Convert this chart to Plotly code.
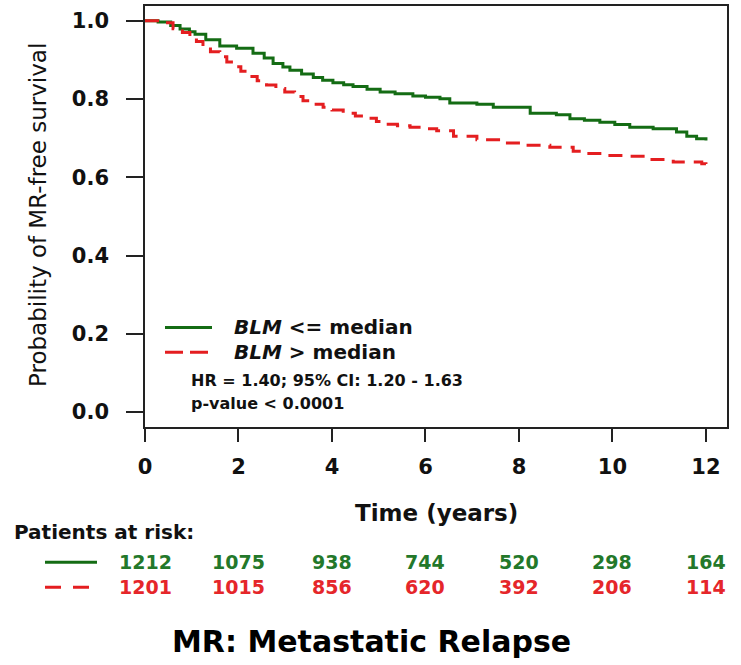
import plotly.graph_objects as go

# Kaplan-Meier estimates of metastatic-relapse-free survival by BLM group
time_low = [0, 0.28, 0.55, 0.75, 0.95, 1.07, 1.3, 1.6, 1.96, 2.31, 2.55, 2.74, 2.95, 3.1, 3.35,
            3.6, 3.8, 4.02, 4.25, 4.45, 4.75, 5.03, 5.35, 5.73, 6.0, 6.31, 6.52, 7.1, 7.45, 8.24,
            8.8, 9.09, 9.4, 9.73, 10.05, 10.37, 10.87, 11.37, 11.59, 11.8, 12.0]
surv_low = [1.0, 0.997, 0.988, 0.979, 0.972, 0.966, 0.952, 0.936, 0.930, 0.917, 0.905, 0.891, 0.882, 0.874, 0.864,
            0.855, 0.848, 0.842, 0.837, 0.832, 0.825, 0.818, 0.814, 0.808, 0.805, 0.801, 0.790, 0.787, 0.779, 0.764,
            0.760, 0.750, 0.746, 0.741, 0.735, 0.728, 0.724, 0.716, 0.705, 0.699, 0.694]

time_high = [0, 0.3, 0.6, 0.8, 0.96, 1.1, 1.24, 1.4, 1.6, 1.75, 1.89, 2.05, 2.25, 2.4, 2.6,
             2.8, 2.99, 3.2, 3.38, 3.6, 3.81, 4.0, 4.24, 4.5, 4.74, 4.95, 5.17, 5.4, 5.67, 5.9,
             6.24, 6.6, 7.1, 7.66, 8.16, 8.66, 9.16, 9.45, 9.73, 10.23, 10.74, 11.3, 11.91, 12.0]
surv_high = [1.0, 0.995, 0.98, 0.97, 0.961, 0.947, 0.934, 0.921, 0.908, 0.895, 0.883, 0.871, 0.858, 0.847, 0.836,
             0.827, 0.818, 0.807, 0.796, 0.787, 0.779, 0.772, 0.764, 0.757, 0.751, 0.743, 0.736, 0.732, 0.728, 0.724,
             0.719, 0.705, 0.696, 0.688, 0.682, 0.677, 0.667, 0.661, 0.656, 0.654, 0.646, 0.639, 0.635, 0.634]

# Numbers at risk
risk_times = [0, 2, 4, 6, 8, 10, 12]
risk_low = [1212, 1075, 938, 744, 520, 298, 164]
risk_high = [1201, 1015, 856, 620, 392, 206, 114]

x_ticks = [0, 2, 4, 6, 8, 10, 12]
y_ticks = [0.0, 0.2, 0.4, 0.6, 0.8, 1.0]

GREEN = "#146c14"
RED = "#e41e20"
GREEN_TXT = "#23782a"
RED_TXT = "#e5262a"
FONT = "DejaVu Sans"

fig = go.Figure()
fig.add_trace(go.Scatter(x=time_low, y=surv_low, mode="lines", line_shape="hv",
                         line=dict(color=GREEN, width=3), showlegend=False))
fig.add_trace(go.Scatter(x=time_high, y=surv_high, mode="lines", line_shape="hv",
                         line=dict(color=RED, width=3, dash="14px,9px"), showlegend=False))

# plot-area geometry in pixels, used to place elements outside / inside the box
L, R, T, B = 145, 727, 4, 427
W, H = R - L, B - T


def px(xp):
    return (xp - L) / W


def py(yp):
    return (B - yp) / H


shapes = []
annotations = []

# in-plot legend
shapes.append(dict(type="line", xref="paper", yref="paper", x0=px(165), x1=px(212), y0=py(327), y1=py(327),
                   line=dict(color=GREEN, width=3)))
shapes.append(dict(type="line", xref="paper", yref="paper", x0=px(165), x1=px(208), y0=py(352), y1=py(352),
                   line=dict(color=RED, width=3, dash="18px,7px")))
legend_font = dict(family=FONT, size=20, color="#111111")
stat_font = dict(family=FONT, size=16, color="#111111")
annotations += [
    dict(x=px(232), y=py(327), xref="paper", yref="paper", xanchor="left", yanchor="middle", showarrow=False,
         text="<b><i>BLM</i> <= median</b>", font=legend_font),
    dict(x=px(232), y=py(352), xref="paper", yref="paper", xanchor="left", yanchor="middle", showarrow=False,
         text="<b><i>BLM</i> > median</b>", font=legend_font),
    dict(x=px(189), y=py(380), xref="paper", yref="paper", xanchor="left", yanchor="middle", showarrow=False,
         text="<b>HR = 1.40; 95% CI: 1.20 - 1.63</b>", font=stat_font),
    dict(x=px(189), y=py(403), xref="paper", yref="paper", xanchor="left", yanchor="middle", showarrow=False,
         text="<b>p-value < 0.0001</b>", font=stat_font),
]

# axis titles
annotations.append(dict(x=0.5, y=py(513), xref="paper", yref="paper", xanchor="center", yanchor="middle",
                        showarrow=False, text="<b>Time (years)</b>",
                        font=dict(family=FONT, size=23, color="#111111")))
annotations.append(dict(x=px(38), y=py(214), xref="paper", yref="paper", xanchor="center", yanchor="middle",
                        showarrow=False, text="Probability of MR-free survival", textangle=-90,
                        font=dict(family=FONT, size=23, color="#111111")))

# patients-at-risk table
annotations.append(dict(x=px(12), y=py(533), xref="paper", yref="paper", xanchor="left", yanchor="middle",
                        showarrow=False, text="<b>Patients at risk:</b>",
                        font=dict(family=FONT, size=20, color="#111111")))
shapes.append(dict(type="line", xref="paper", yref="paper", x0=px(45), x1=px(97), y0=py(563), y1=py(563),
                   line=dict(color=GREEN, width=3)))
shapes.append(dict(type="line", xref="paper", yref="paper", x0=px(45), x1=px(90), y0=py(588), y1=py(588),
                   line=dict(color=RED, width=3, dash="16px,12px")))
for t, n in zip(risk_times, risk_low):
    annotations.append(dict(x=t, y=py(563), xref="x", yref="paper", xanchor="center", yanchor="middle",
                            showarrow=False, text=f"<b>{n}</b>",
                            font=dict(family=FONT, size=19, color=GREEN_TXT)))
for t, n in zip(risk_times, risk_high):
    annotations.append(dict(x=t, y=py(588), xref="x", yref="paper", xanchor="center", yanchor="middle",
                            showarrow=False, text=f"<b>{n}</b>",
                            font=dict(family=FONT, size=19, color=RED_TXT)))

# caption
annotations.append(dict(x=px(371), y=py(643), xref="paper", yref="paper", xanchor="center", yanchor="middle",
                        showarrow=False, text="<b>MR: Metastatic Relapse</b>",
                        font=dict(family=FONT, size=30, color="#000000")))

fig.update_layout(
    width=741, height=665,
    margin=dict(l=L, r=741 - R, t=T, b=665 - B),
    paper_bgcolor="white", plot_bgcolor="white",
    shapes=shapes, annotations=annotations,
    showlegend=False,
    xaxis=dict(range=[0, 12.45], tickvals=x_ticks, ticktext=[str(v) for v in x_ticks],
               showgrid=False, zeroline=False, showline=True, mirror=True,
               linecolor="#222222", linewidth=1.5, ticks="outside", ticklen=13, tickwidth=1.5,
               tickcolor="#222222", ticklabelstandoff=7,
               tickfont=dict(family=FONT, size=21, color="#111111", weight="bold")),
    yaxis=dict(range=[-0.038, 1.038], tickvals=y_ticks, tickformat=".1f",
               showgrid=False, zeroline=False, showline=True, mirror=True,
               linecolor="#222222", linewidth=1.5, ticks="outside", ticklen=17, tickwidth=1.5,
               tickcolor="#222222", ticklabelstandoff=13,
               tickfont=dict(family=FONT, size=21, color="#111111", weight="bold")),
)

fig.write_html("out.html")
